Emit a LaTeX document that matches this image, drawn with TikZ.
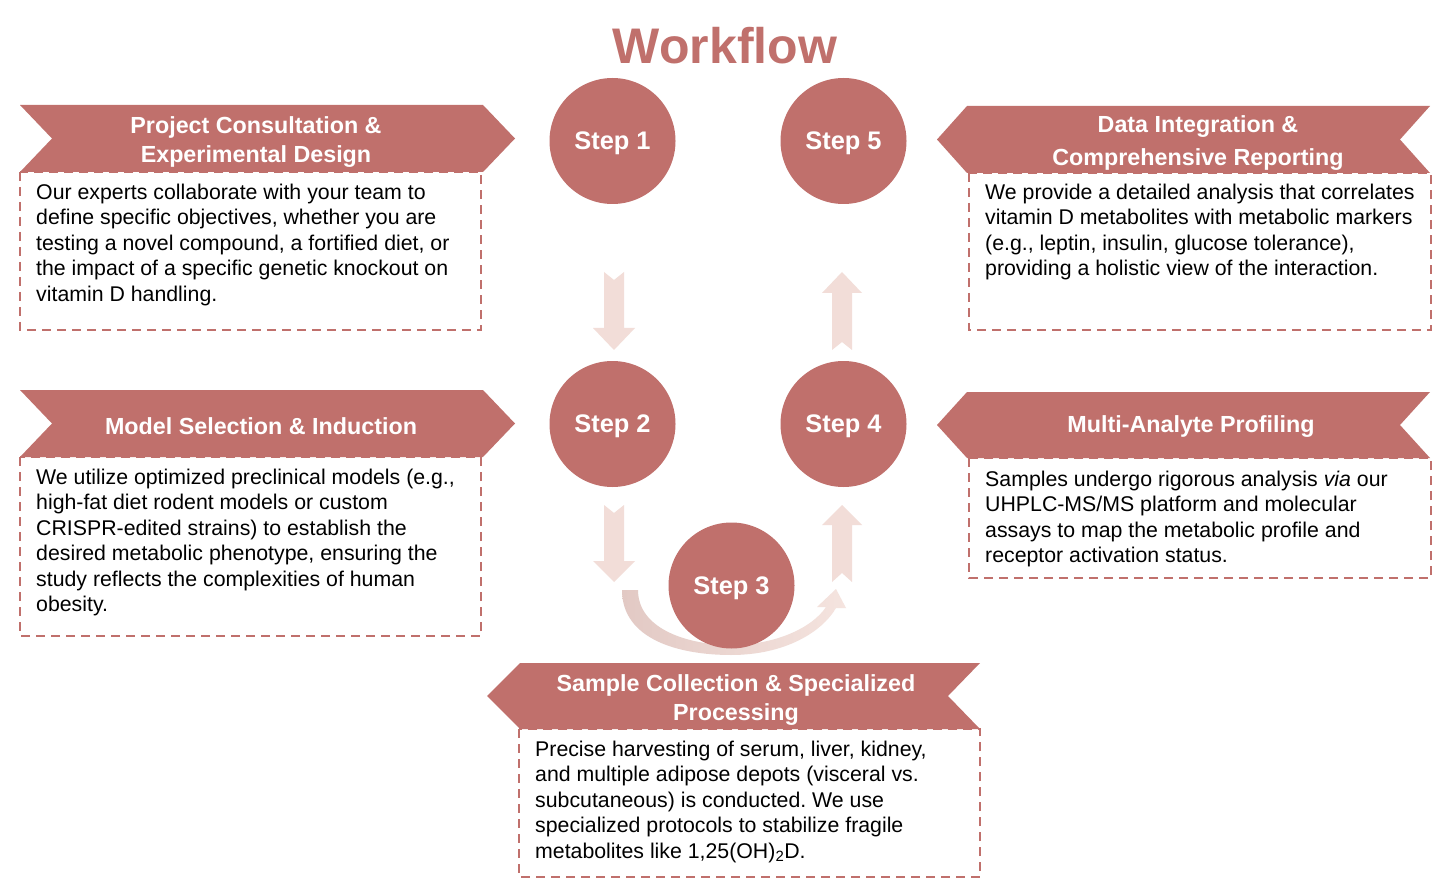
\documentclass[tikz,border=0pt]{standalone}
\usepackage{fontspec}
\setmainfont{Liberation Sans}
\frenchspacing
\definecolor{rose}{HTML}{C0706C}
\definecolor{pale}{HTML}{F2DDD8}
\definecolor{arcL}{HTML}{E2C9C4}
\definecolor{arcR}{HTML}{F5E4DF}
\begin{document}
\frenchspacing
\begin{tikzpicture}[x=1pt,y=-1pt,
  stepnode/.style={circle, fill=rose, minimum size=126pt, inner sep=0pt, text=white, font=\fontsize{25.4}{30}\selectfont\bfseries, text depth=0pt},
  bannertext/.style={text=white, align=center, inner sep=0pt, font=\fontsize{23.3}{28.5}\selectfont\bfseries},
  bodytext/.style={anchor=north west, align=left, inner sep=0pt, font=\fontsize{21.3}{25.5}\selectfont},
  dashbox/.style={draw=rose, line width=1.6pt, dash pattern=on 9pt off 6pt},
  banner/.style={fill=rose},
  blockarrow/.style={fill=pale}
]
\useasboundingbox (0,0) rectangle (1446,885);
\fill[white] (0,0) rectangle (1446,885);

% title
\node[text=rose, font=\fontsize{50}{60}\selectfont\bfseries, anchor=base, inner sep=0pt] (title) at (725,64) {Workflow};

% dashed boxes
\draw[dashbox] (20,172) rectangle (481,330);
\draw[dashbox] (20,457) rectangle (481,636);
\draw[dashbox] (969,173) rectangle (1431,330);
\draw[dashbox] (969,458) rectangle (1431,578);
\draw[dashbox] (519,729) rectangle (980,877);

% banners
\fill[banner] (20,105) -- (483,105) -- (515,138.5) -- (483,172) -- (20,172) -- (52,138.5) -- cycle;
\fill[banner] (20,390) -- (483,390) -- (515,423.5) -- (483,457) -- (20,457) -- (52,423.5) -- cycle;
\fill[banner] (1430,106) -- (967,106) -- (937,139.5) -- (967,173) -- (1430,173) -- (1400,139.5) -- cycle;
\fill[banner] (1430,392) -- (967,392) -- (937,425) -- (967,458) -- (1430,458) -- (1400,425) -- cycle;
\fill[banner] (980,663) -- (520,663) -- (487,696) -- (520,729) -- (980,729) -- (948,696) -- cycle;

% banner titles
\node[bannertext] (b1) at (256,142) {Project Consultation \&\\Experimental Design};
\node[bannertext] (b2) at (261,426) {Model Selection \& Induction};
\node[bannertext, font=\fontsize{23.3}{33}\selectfont\bfseries] (b5) at (1198,143) {Data Integration \&\\Comprehensive Reporting};
\node[bannertext] (b4) at (1191,427) {Multi-Analyte Profiling};
\node[bannertext] (b3) at (736,700) {Sample Collection \& Specialized\\Processing};

% body texts
\node[bodytext] (t1) at (36,181) {\strut Our experts collaborate with your team to\\define specific objectives, whether you are\\testing a novel compound, a fortified diet, or\\the impact of a specific genetic knockout on\\vitamin D handling.};
\node[bodytext] (t2) at (36,466) {\strut We utilize optimized preclinical models (e.g.,\\high-fat diet rodent models or custom\\CRISPR-edited strains) to establish the\\desired metabolic phenotype, ensuring the\\study reflects the complexities of human\\obesity.};
\node[bodytext] (t5) at (985,181) {\strut We provide a detailed analysis that correlates\\vitamin D metabolites with metabolic markers\\(e.g., leptin, insulin, glucose tolerance),\\providing a holistic view of the interaction.};
\node[bodytext] (t4) at (985,468) {\strut Samples undergo rigorous analysis \textit{via} our\\UHPLC-MS/MS platform and molecular\\assays to map the metabolic profile and\\receptor activation status.};
\node[bodytext] (t3) at (535,738) {\strut Precise harvesting of serum, liver, kidney,\\and multiple adipose depots (visceral vs.\\subcutaneous) is conducted. We use\\specialized protocols to stabilize fragile\\metabolites like 1,25(OH)\textsubscript{2}D.};

% block arrows
\fill[blockarrow] (604,272) -- (614,280) -- (624,272) -- (624,328) -- (635,328) -- (614,350) -- (593,328) -- (604,328) -- cycle;
\fill[blockarrow] (604,505) -- (614,513) -- (624,505) -- (624,561) -- (635,561) -- (614,582) -- (593,561) -- (604,561) -- cycle;
\fill[blockarrow] (842,272) -- (862,293) -- (852,293) -- (852,350) -- (842,342) -- (832,350) -- (832,293) -- (822,293) -- cycle;
\fill[blockarrow] (842,505) -- (862,525) -- (852,525) -- (852,582) -- (842,573) -- (832,582) -- (832,525) -- (822,525) -- cycle;

% curved arrow
\shade[left color=arcL, right color=arcR] (622,590) .. controls (622,640) and (680,655) .. (731,655) .. controls (785,655) and (822,632) .. (836,608) -- (846,608) -- (836,589) -- (817,607) -- (826,607) .. controls (812,628) and (775,645) .. (731,645) .. controls (690,645) and (638,630) .. (638,590) -- cycle;

% steps
\node[stepnode] (s1) at (612.5,141) {Step 1};
\node[stepnode] (s5) at (843.5,141) {Step 5};
\node[stepnode] (s2) at (612.5,424) {Step 2};
\node[stepnode] (s4) at (843.5,424) {Step 4};
\node[stepnode] (s3) at (731.5,585.5) {Step 3};
\end{tikzpicture}
\end{document}
